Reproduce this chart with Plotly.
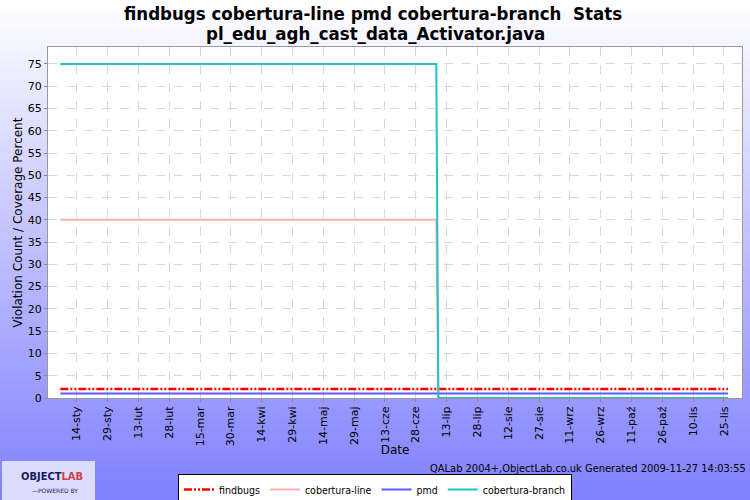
import plotly.graph_objects as go

# ---- data ----
dates = ["2009-01-06", "2009-07-08", "2009-07-09", "2009-11-27"]
findbugs = [2, 2, 2, 2]
cobertura_line = [40, 40, 0, 0]
pmd = [1, 1, 1, 1]
cobertura_branch = [75, 75, 0, 0]

tick_dates = ["2009-01-14", "2009-01-29", "2009-02-13", "2009-02-28", "2009-03-15",
              "2009-03-30", "2009-04-14", "2009-04-29", "2009-05-14", "2009-05-29",
              "2009-06-13", "2009-06-28", "2009-07-13", "2009-07-28", "2009-08-12",
              "2009-08-27", "2009-09-11", "2009-09-26", "2009-10-11", "2009-10-26",
              "2009-11-10", "2009-11-25"]
tick_labels = ["14-sty", "29-sty", "13-lut", "28-lut", "15-mar", "30-mar", "14-kwi",
               "29-kwi", "14-maj", "29-maj", "13-cze", "28-cze", "13-lip", "28-lip",
               "12-sie", "27-sie", "11-wrz", "26-wrz", "11-paź", "26-paź", "10-lis",
               "25-lis"]
y_ticks = list(range(0, 80, 5))

W, H = 750, 500
L, R, T, B = 48, 8, 47, 102
PW, PH = W - L - R, H - T - B


def px_x(p):
    return (p - L) / PW


def px_y(p):
    return (H - B - p) / PH


fig = go.Figure()
fig.add_trace(go.Scatter(x=dates, y=findbugs, name="findbugs", mode="lines",
                         line=dict(color="#FF0000", width=2.5,
                                   dash="8px,2px,2px,2px,2px,2px")))
fig.add_trace(go.Scatter(x=dates, y=cobertura_line, name="cobertura-line", mode="lines",
                         line=dict(color="#FFAFAF", width=2)))
fig.add_trace(go.Scatter(x=dates, y=pmd, name="pmd", mode="lines",
                         line=dict(color="#5A5AFF", width=2)))
fig.add_trace(go.Scatter(x=dates, y=cobertura_branch, name="cobertura-branch", mode="lines",
                         line=dict(color="#1CC4C4", width=2)))

# background gradient white -> blue
shapes = []
n = 50
for i in range(n):
    p0 = H * i / n
    p1 = H * (i + 1) / n
    f = (p0 + p1) / 2 / 1000.0
    c = int(round(255 * (1 - f)))
    shapes.append(dict(type="rect", xref="paper", yref="paper",
                       x0=px_x(0), x1=px_x(W), y0=px_y(p1), y1=px_y(p0) + 0.001,
                       fillcolor=f"rgb({c},{c},255)", line=dict(width=0), layer="below"))
# plot area
shapes.append(dict(type="rect", xref="paper", yref="paper", x0=0, x1=1, y0=0, y1=1,
                   fillcolor="white", line=dict(width=0), layer="below"))
# logo box
shapes.append(dict(type="rect", xref="paper", yref="paper",
                   x0=px_x(2), x1=px_x(95), y0=px_y(500), y1=px_y(461),
                   fillcolor="#DCDCFF", line=dict(width=0), layer="below"))

title_font = dict(family="DejaVu Sans Condensed", size=18.5, color="black", weight="bold")
annotations = [
    dict(text="findbugs cobertura-line pmd cobertura-branch  Stats",
         xref="paper", yref="paper", x=px_x(373), y=px_y(13), xanchor="center",
         yanchor="middle", showarrow=False, font=title_font),
    dict(text="pl_edu_agh_cast_data_Activator.java",
         xref="paper", yref="paper", x=px_x(375), y=px_y(33), xanchor="center",
         yanchor="middle", showarrow=False, font=title_font),
    dict(text="QALab 2004+,ObjectLab.co.uk Generated 2009-11-27 14:03:55",
         xref="paper", yref="paper", x=px_x(748), y=px_y(468), xanchor="right",
         yanchor="middle", showarrow=False,
         font=dict(family="DejaVu Sans Condensed", size=11, color="black")),
    dict(text="<b>OBJECT</b><b><span style='color:#D04040'>LAB</span></b>",
         xref="paper", yref="paper", x=px_x(52), y=px_y(476), xanchor="center",
         yanchor="middle", showarrow=False,
         font=dict(family="DejaVu Sans Condensed", size=11, color="#1A1A5A")),
    dict(text="—POWERED BY",
         xref="paper", yref="paper", x=px_x(55), y=px_y(490), xanchor="center",
         yanchor="middle", showarrow=False,
         font=dict(family="DejaVu Sans", size=6, color="#1A1A5A")),
]

fig.update_layout(
    width=W, height=H,
    margin=dict(l=L, r=R, t=T, b=B, autoexpand=False),
    paper_bgcolor="rgb(200,200,255)",
    plot_bgcolor="rgba(0,0,0,0)",
    shapes=shapes,
    annotations=annotations,
    font=dict(family="DejaVu Sans", size=11, color="black"),
    showlegend=True,
    legend=dict(orientation="h", x=px_x(375), xanchor="center", y=px_y(474), yanchor="top",
                bgcolor="white", bordercolor="black", borderwidth=1,
                font=dict(family="DejaVu Sans Condensed", size=10.5),
                itemwidth=30, tracegroupgap=0),
    xaxis=dict(type="date", range=["2008-12-31", "2009-12-03 19:00"],
               tickmode="array", tickvals=tick_dates, ticktext=tick_labels,
               tickangle=-90, ticks="outside", ticklen=3, tickcolor="#888888",
               showgrid=True, gridcolor="#D8D8D8", griddash="dash", gridwidth=1,
               showline=True, linecolor="#999999", mirror=True, zeroline=False,
               title=dict(text="Date", font=dict(size=12), standoff=0),
               tickfont=dict(size=11)),
    yaxis=dict(range=[0, 78.8], tickmode="array", tickvals=y_ticks,
               ticks="outside", ticklen=3, tickcolor="#888888",
               showgrid=True, gridcolor="#D8D8D8", griddash="dash", gridwidth=1,
               showline=True, linecolor="#999999", mirror=True, zeroline=False,
               title=dict(text="Violation Count / Coverage Percent", font=dict(size=12), standoff=2),
               tickfont=dict(size=11)),
)

fig.write_html("out.html", config={"displayModeBar": False},
               post_script="document.body.style.margin='0';document.body.style.overflow='hidden';")
